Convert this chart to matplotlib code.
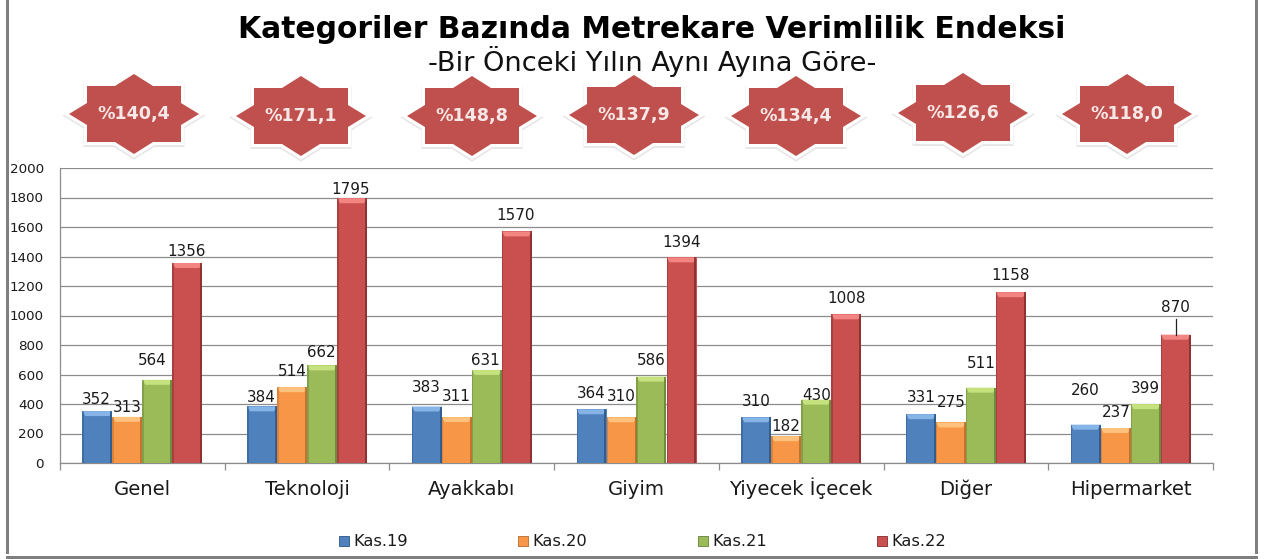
import matplotlib
matplotlib.use("Agg")
import matplotlib.pyplot as plt
import numpy as np
from matplotlib.patches import Polygon, Rectangle

W, H = 1264, 559
categories = ["Genel", "Teknoloji", "Ayakkabı", "Giyim", "Yiyecek İçecek", "Diğer", "Hipermarket"]
kas19 = [352, 384, 383, 364, 310, 331, 260]
kas20 = [313, 514, 311, 310, 182, 275, 237]
kas21 = [564, 662, 631, 586, 430, 511, 399]
kas22 = [1356, 1795, 1570, 1394, 1008, 1158, 870]
series_names = ["Kas.19", "Kas.20", "Kas.21", "Kas.22"]
endeks = ["%140,4", "%171,1", "%148,8", "%137,9", "%134,4", "%126,6", "%118,0"]

series = [kas19, kas20, kas21, kas22]
colors = ["#4F81BD", "#F79646", "#9BBB59", "#C9504F"]
dark = ["#2A5485", "#B96A28", "#64803A", "#7E2E2C"]
light = ["#86B4E6", "#FFC27E", "#C6E27F", "#F28482"]

# label offsets from bar top (dx, dy) in pixels
offs = [
    [(-1, 12), (0, 9), (-5, 19), (-1, 11)],
    [(-1, 9), (0, 16), (-1, 13), (-1, 9)],
    [(0, 19), (0, 21), (-1, 9), (-1, 16)],
    [(0, 16), (0, 21), (0, 16), (0, 15)],
    [(0, 16), (0, 10), (0, 4), (0, 16)],
    [(0, 17), (0, 20), (0, 24), (0, 17)],
    [(0, 34), (1, 16), (0, 16), (0, 27)],
]
star_centres = [(134, 114), (301, 116), (472, 116), (634, 115), (796, 116), (963, 113), (1127, 114)]

plt.rcParams["font.family"] = "DejaVu Sans"
TXT = "#1a1a1a"
GRID = "#8C8C8C"

fig = plt.figure(figsize=(W / 100, H / 100), dpi=100, facecolor="white")
ax = fig.add_axes([60 / W, 1 - 463 / H, (1213 - 60) / W, (463 - 168) / H])
ax.set_xlim(0, 7)
ax.set_ylim(0, 2000)
ax.set_yticks(np.arange(0, 2001, 200))
ax.set_xticks(np.arange(0, 8))
ax.set_xticklabels([])
ax.yaxis.grid(True, color=GRID, lw=0.9)
ax.set_axisbelow(True)
ax.tick_params(axis="y", length=0, labelsize=9.7, labelcolor=TXT, pad=11.5)
ax.tick_params(axis="x", length=5, width=0.9, color=GRID)
for s in ["top", "right"]:
    ax.spines[s].set_visible(False)
for s in ["left", "bottom"]:
    ax.spines[s].set_color(GRID)
    ax.spines[s].set_linewidth(0.9)

bw = 30 / (1153 / 7)
pxx = bw / 30
pxy = 2000 / 295
for j, vals in enumerate(series):
    xs = np.arange(7) + 0.5 + (j - 1.5) * bw
    ax.bar(xs, vals, width=bw, color=colors[j], zorder=3, linewidth=0)
    for i, (x, v) in enumerate(zip(xs, vals)):
        l, r = x - bw / 2, x + bw / 2
        # bevelled top and darker sides
        ax.add_patch(Polygon([(l, v), (r, v), (r - 3 * pxx, v - 5 * pxy), (l + 3 * pxx, v - 5 * pxy)],
                             closed=True, fc=light[j], lw=0, zorder=4))
        ax.add_patch(Rectangle((l, 0), 1.5 * pxx, v, fc=dark[j], alpha=0.45, lw=0, zorder=4))
        ax.add_patch(Rectangle((r - 2 * pxx, 0), 2 * pxx, v, fc=dark[j], alpha=0.8, lw=0, zorder=4))
        dx, dy = offs[i][j]
        ax.annotate(str(v), xy=(x, v), xytext=(dx, dy), textcoords="offset pixels",
                    ha="center", va="center", fontsize=10.9, color=TXT, zorder=6)

# leader for the last label
xh = 6.5 + 1.5 * bw
ax.plot([xh, xh], [kas22[6], kas22[6] + 16 * pxy], color="#222222", lw=0.9, zorder=5)

for i, c in enumerate(categories):
    fig.text((60 + (i + 0.5) * 1153 / 7) / W, 1 - 495 / H, c, ha="center", va="baseline",
             fontsize=14.1, color=TXT)

# overlay in pixel coordinates
ov = fig.add_axes([0, 0, 1, 1], facecolor="none")
ov.set_xlim(0, W)
ov.set_ylim(H, 0)
ov.axis("off")

ov.add_patch(Rectangle((6, -5), 3, H, fc="#7F7F7F", lw=0))
ov.add_patch(Rectangle((1255, -5), 3, H, fc="#7F7F7F", lw=0))
ov.add_patch(Rectangle((6, 556), 1252, 3, fc="#7F7F7F", lw=0))

shape = np.array([(0, -40), (19, -28), (47, -28), (47, -11), (65, 0), (47, 11), (47, 28), (19, 28),
                  (0, 40), (-19, 28), (-47, 28), (-47, 11), (-65, 0), (-47, -11), (-47, -28), (-19, -28)])
for (cx, cy), t in zip(star_centres, endeks):
    pts = shape + (cx, cy)
    ov.add_patch(Polygon(pts + (0, 1.5), closed=True, fc="#E6E6E6", ec="#E6E6E6", lw=5, joinstyle="miter"))
    ov.add_patch(Polygon(pts, closed=True, fc="white", ec="white", lw=4.5, joinstyle="miter"))
    ov.add_patch(Polygon(pts, closed=True, fc="#C0504D", lw=0))
    ov.text(cx, cy, t, ha="center", va="center", color="#F7E8E8", fontsize=12.6, fontweight="bold")

ov.text(652, 29, "Kategoriler Bazında Metrekare Verimlilik Endeksi", ha="center", va="center",
        fontsize=21.4, fontweight="bold", color="black")
ov.text(652, 71, "-Bir Önceki Yılın Aynı Ayına Göre-", ha="center", va="baseline",
        fontsize=19.6, color="#111111")

for x, n, c, d in zip([339, 518, 698, 877], series_names, colors, dark):
    ov.add_patch(Rectangle((x, 536), 10, 10, fc=c, ec=d, lw=0.6))
    ov.text(x + 14, 541, n, ha="left", va="center", fontsize=11.7, color=TXT)

fig.savefig("out.png", dpi=100, facecolor="white")
